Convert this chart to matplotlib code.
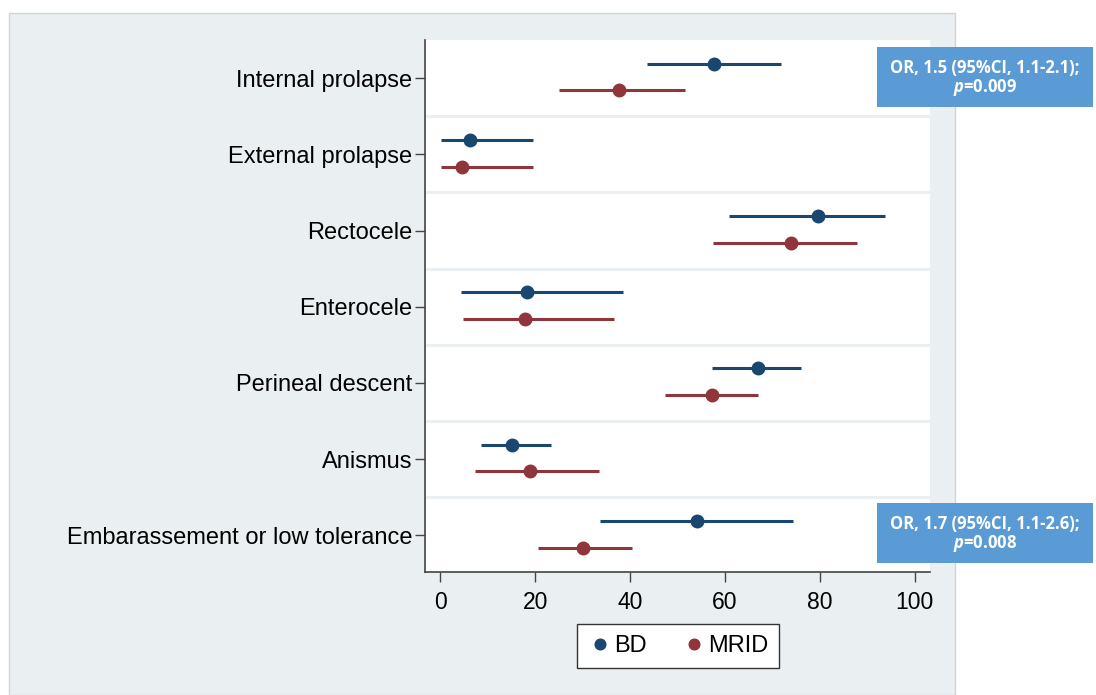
import matplotlib.pyplot as plt
from matplotlib.patches import Rectangle
import numpy as np

plt.rcParams['font.family'] = ['Liberation Sans', 'DejaVu Sans']
plt.rcParams['mathtext.fontset'] = 'custom'
plt.rcParams['mathtext.it'] = 'Open Sans:italic:bold'

categories = ["Internal prolapse", "External prolapse", "Rectocele", "Enterocele",
              "Perineal descent", "Anismus", "Embarassement or low tolerance"]

# percentages with 95% CI
bd_est = [57.7, 6.3, 79.6, 18.3, 66.9, 15.2, 54.1]
bd_lo = [43.6, 0.2, 60.8, 4.4, 57.3, 8.6, 33.7]
bd_hi = [71.8, 19.6, 93.7, 38.5, 76.0, 23.4, 74.3]

mrid_est = [37.7, 4.6, 73.9, 17.9, 57.3, 18.9, 30.1]
mrid_lo = [25.1, 0.2, 57.5, 4.8, 47.4, 7.4, 20.6]
mrid_hi = [51.6, 19.6, 87.8, 36.6, 66.9, 33.5, 40.4]

notes = {0: ("OR, 1.5 (95%CI, 1.1-2.1);", "0.009"),
         6: ("OR, 1.7 (95%CI, 1.1-2.6);", "0.008")}

navy = "#1a476f"
maroon = "#90353b"
panel = "#eaeff2"
boxblue = "#5b9bd5"

fig = plt.figure(figsize=(10.96, 6.95), dpi=100)
fig.patch.set_facecolor("white")
# light grey graph region
fig.patches.append(Rectangle((9 / 1096, 0), (955 - 9) / 1096, 1 - 13 / 695,
                             transform=fig.transFigure, facecolor=panel,
                             edgecolor="#d0d4d6", linewidth=1, zorder=-10))

ax = fig.add_axes([425 / 1096, 1 - 572 / 695, (930 - 425) / 1096, (572 - 40) / 695])
ax.set_zorder(1)
ax.set_facecolor("white")

y = np.arange(len(categories))
# row separators
for k in range(len(categories) - 1):
    ax.axhline(k + 0.5, color=panel, linewidth=2.2, zorder=1)

ax.hlines(y - 0.19, bd_lo, bd_hi, color=navy, linewidth=2.2, zorder=2)
ax.plot(bd_est, y - 0.19, 'o', color=navy, markersize=9, zorder=3, label="BD")
ax.hlines(y + 0.16, mrid_lo, mrid_hi, color=maroon, linewidth=2.2, zorder=2)
ax.plot(mrid_est, y + 0.16, 'o', color=maroon, markersize=9, zorder=3, label="MRID")

ax.set_xlim(-3.2, 103.2)
ax.set_ylim(6.48, -0.5)
ax.set_xticks([0, 20, 40, 60, 80, 100])
ax.set_yticks(y)
ax.set_yticklabels(categories)
ax.tick_params(axis='both', length=7, width=1, color="#444444", pad=2)
ax.tick_params(axis='y', labelsize=17)
ax.tick_params(axis='x', labelsize=16.5, pad=7)
for side in ["top", "right"]:
    ax.spines[side].set_visible(False)
for side in ["left", "bottom"]:
    ax.spines[side].set_color("#444444")
    ax.spines[side].set_linewidth(1.2)

leg = fig.legend(loc="center", bbox_to_anchor=(678 / 1096, 1 - 646 / 695), ncol=2,
                 fontsize=17, frameon=True, fancybox=False, handletextpad=0.1,
                 columnspacing=1.5, handlelength=1.0, borderpad=0.45, framealpha=1,
                 markerscale=0.85)
leg.get_frame().set_edgecolor("#333333")
leg.get_frame().set_linewidth(1.0)
leg.set_zorder(2)

# odds ratio boxes
for row, (line1, pval) in notes.items():
    top = 47 if row == 0 else 503
    fig.patches.append(Rectangle((877 / 1096, 1 - (top + 60) / 695), 216 / 1096, 60 / 695,
                                 transform=fig.transFigure, facecolor=boxblue,
                                 edgecolor="none", zorder=5))
    fig.text(985 / 1096, 1 - (top + 21) / 695, line1, ha="center", va="center",
             color="white", fontsize=12, fontweight="bold", family="Open Sans", zorder=6)
    fig.text(985 / 1096, 1 - (top + 41) / 695, r"$\it{p}$=" + pval, ha="center", va="center",
             color="white", fontsize=12, fontweight="bold", family="Open Sans", zorder=6)

fig.savefig("out.png", dpi=100)
